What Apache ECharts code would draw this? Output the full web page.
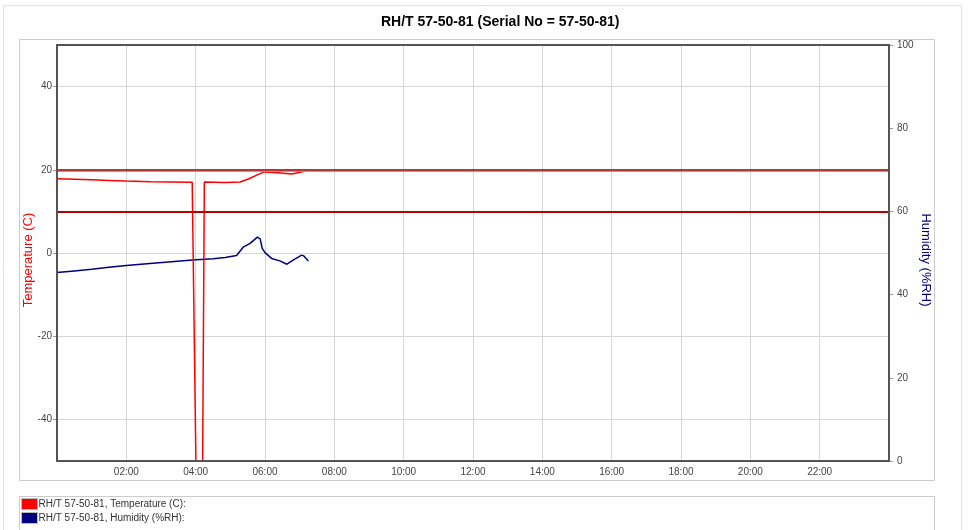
<!DOCTYPE html>
<html>
<head>
<meta charset="utf-8">
<script src="https://cdn.jsdelivr.net/npm/echarts@6/dist/echarts.min.js"></script>
<style>
html,body{margin:0;padding:0;background:#fff;}
#chart{width:970px;height:530px;}
</style>
</head>
<body>
<div id="chart"></div>
<script>
// ---- data (time in hours since 00:00) ----
const chartTitle = 'RH/T 57-50-81 (Serial No = 57-50-81)';
const seriesNames = ['RH/T 57-50-81, Temperature (C)', 'RH/T 57-50-81, Humidity (%RH)'];
const tempTimes  = [0, 0.5, 1.0, 1.5, 2.0, 2.7, 3.3, 3.9, 4.01, 4.2, 4.25, 4.85, 5.28, 5.52, 5.81, 5.98, 6.38, 6.77, 7.01, 7.25];
const tempValues = [17.86, 17.75, 17.6, 17.45, 17.3, 17.1, 17.05, 17.0, -52, -52, 17.05, 16.95, 17.05, 17.8, 18.9, 19.5, 19.3, 19.0, 19.4, 19.85];
const humTimes   = [0, 0.5, 1.0, 1.5, 2.0, 2.68, 3.3, 3.9, 4.5, 4.85, 5.18, 5.37, 5.57, 5.78, 5.86, 5.92, 6.0, 6.19, 6.43, 6.63, 6.87, 7.06, 7.12, 7.25];
const humValues  = [45.3, 45.7, 46.1, 46.6, 47.0, 47.5, 47.9, 48.3, 48.6, 48.9, 49.4, 51.4, 52.3, 53.8, 53.4, 51.1, 50.1, 48.7, 48.1, 47.3, 48.6, 49.5, 49.3, 48.1];
const tempLimits = [20, 10];
const xTickLabels = ['00:00','02:00','04:00','06:00','08:00','10:00','12:00','14:00','16:00','18:00','20:00','22:00','24:00'];
const tempTickLabels = [-40, -20, 0, 20, 40];
const humTickLabels = [0, 20, 40, 60, 80, 100];

const FONT = 'Liberation Sans, Arial, sans-serif';
const tempData = tempTimes.map((t, i) => [t, tempValues[i]]);
const humData = humTimes.map((t, i) => [t, humValues[i]]);

const GRID = {left: 57, right: 81, top: 45, bottom: 69};
const W = 970, H = 530;

const chart = echarts.init(document.getElementById('chart'), null, {renderer: 'canvas'});
chart.setOption({
  backgroundColor: '#fff',
  animation: false,
  title: {
    text: chartTitle,
    left: 381, top: 15, padding: 0,
    textStyle: {fontFamily: FONT, fontSize: 14, fontWeight: 'bold', color: '#000'}
  },
  graphic: [
    {type: 'rect', shape: {x: 3.5, y: 5.5, width: 958, height: 600}, style: {fill: 'none', stroke: '#e2e2e2', lineWidth: 1}, silent: true, z: -10},
    {type: 'rect', shape: {x: 19.5, y: 39.5, width: 915, height: 441}, style: {fill: 'none', stroke: '#cccccc', lineWidth: 1}, silent: true, z: -10},
    {type: 'rect', shape: {x: 19.5, y: 496.5, width: 915, height: 100}, style: {fill: 'none', stroke: '#cccccc', lineWidth: 1}, silent: true, z: -10},
    {type: 'rect', shape: {x: GRID.left, y: GRID.top, width: W - GRID.left - GRID.right, height: H - GRID.top - GRID.bottom},
      style: {fill: 'none', stroke: '#555555', lineWidth: 2}, silent: true, z: 100}
  ],
  legend: {
    orient: 'vertical',
    left: 21, top: 498,
    padding: 0,
    itemGap: 2,
    itemWidth: 16, itemHeight: 11,
    icon: 'rect',
    itemStyle: {borderColor: '#bbbbbb', borderWidth: 1},
    formatter: '{name}:',
    textStyle: {fontFamily: FONT, fontSize: 10, color: '#333', lineHeight: 11, padding: [0, 0, 0, -4]},
    selectedMode: false,
    data: seriesNames
  },
  grid: Object.assign({show: false}, GRID),
  xAxis: {
    type: 'value', min: 0, max: 24, interval: 2,
    axisLine: {show: false},
    axisTick: {show: false},
    axisLabel: {
      showMinLabel: false, showMaxLabel: false, margin: 6,
      fontFamily: FONT, fontSize: 10, color: '#444',
      formatter: v => xTickLabels[Math.round(v / 2)]
    },
    splitLine: {show: true, lineStyle: {color: '#d6d6d6', width: 1}}
  },
  yAxis: [
    {
      type: 'value', min: -50, max: 50, splitNumber: 5, position: 'left',
      name: 'Temperature (C)', nameLocation: 'middle', nameGap: 22, nameMoveOverlap: false,
      nameTextStyle: {fontFamily: FONT, fontSize: 13, color: '#ff0000', padding: [0, 14, 0, 0]},
      axisLine: {show: false},
      axisTick: {show: true, length: 4, lineStyle: {color: '#999'}, customValues: tempTickLabels},
      axisLabel: {margin: 5, fontFamily: FONT, fontSize: 10, color: '#444', customValues: tempTickLabels},
      splitLine: {show: true, lineStyle: {color: '#d6d6d6', width: 1}}
    },
    {
      type: 'value', min: 0, max: 100, interval: 20, position: 'right',
      name: 'Humidity (%RH)', nameLocation: 'middle', nameGap: 30, nameRotate: -90, nameMoveOverlap: false,
      nameTextStyle: {fontFamily: FONT, fontSize: 13, color: '#000080', padding: [0, 0, 0, 14]},
      axisLine: {show: false},
      axisTick: {show: true, length: 4, lineStyle: {color: '#999'}},
      axisLabel: {margin: 8, fontFamily: FONT, fontSize: 10, color: '#444',
        formatter: v => String(humTickLabels[Math.round(v / 20)])},
      splitLine: {show: false}
    }
  ],
  series: [
    {
      name: seriesNames[0], type: 'line', yAxisIndex: 0, data: tempData,
      showSymbol: false, symbol: 'none', clip: true,
      color: '#ff0000',
      lineStyle: {color: '#ff0000', width: 1.5},
      markLine: {
        silent: true, symbol: 'none', label: {show: false},
        data: [
          {yAxis: tempLimits[0], lineStyle: {color: '#d88888', width: 3, type: 'solid'}},
          {yAxis: tempLimits[0], lineStyle: {color: '#a32020', width: 1.5, type: 'solid'}},
          {yAxis: tempLimits[1], lineStyle: {color: '#b40000', width: 2, type: 'solid'}}
        ]
      },
      z: 3
    },
    {
      name: seriesNames[1], type: 'line', yAxisIndex: 1, data: humData,
      showSymbol: false, symbol: 'none', clip: true,
      color: '#000080',
      lineStyle: {color: '#000080', width: 1.5},
      z: 2
    }
  ]
});
</script>
</body>
</html>
